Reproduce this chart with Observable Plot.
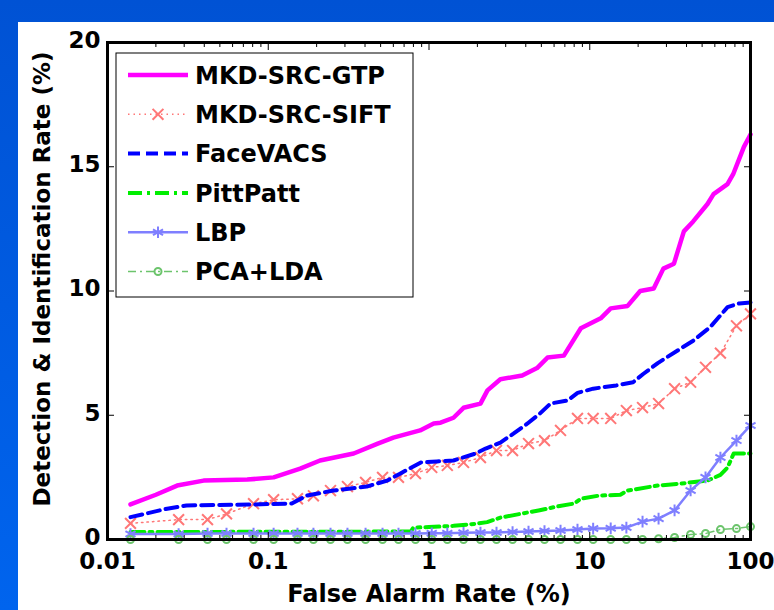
<!DOCTYPE html>
<html><head><meta charset="utf-8">
<script src="https://cdn.jsdelivr.net/npm/d3@7"></script>
<script src="https://cdn.jsdelivr.net/npm/@observablehq/plot@0.6"></script>
<style>
html,body{margin:0;padding:0;width:774px;height:610px;overflow:hidden;background:linear-gradient(to bottom,#0052d4,#0064ee)}
#panel{position:absolute;left:18px;top:22px;width:756px;height:588px;background:#fff}
#legend{position:absolute;left:0;top:0;pointer-events:none}
</style></head><body><div id="panel"></div>
<script>
// ---------- data ----------
const seriesNames = ["MKD-SRC-GTP","MKD-SRC-SIFT","FaceVACS","PittPatt","LBP","PCA+LDA"];
const xTicks = [0.01, 0.1, 1, 10, 100];
const xTickLabels = ["0.01","0.1","1","10","100"];
const yTicks = [0, 5, 10, 15, 20];
const xLabel = "False Alarm Rate (%)";
const yLabel = "Detection & Identification Rate (%)";

const gtpFAR  = [0.0139,0.02,0.0271,0.0396,0.074,0.108,0.158,0.21,0.34,0.48,0.60,0.88,1.07,1.18,1.42,1.64,2.09,2.31,2.78,3.8,4.7,5.46,6.9,8.8,11.7,13.5,17.2,20.6,25,28.7,33.4,38.5,44,54,58.9,71.9,78,91,100];
const gtpRate = [1.41,1.8,2.17,2.37,2.41,2.5,2.85,3.18,3.46,3.86,4.1,4.39,4.67,4.7,4.9,5.3,5.47,6.0,6.45,6.6,6.9,7.32,7.4,8.5,8.9,9.3,9.4,10.0,10.1,10.9,11.1,12.4,12.8,13.5,13.9,14.3,14.7,15.8,16.3];

const vacsFAR  = [0.0139,0.0235,0.031,0.081,0.14,0.174,0.255,0.41,0.55,0.66,0.89,1.12,1.42,1.95,2.25,2.78,3.35,4.1,4.9,5.7,7.3,8.4,10.5,14.6,18.6,21.6,26.5,36.7,44,56,72,85,100];
const vacsRate = [0.9,1.24,1.37,1.41,1.45,1.77,1.97,2.13,2.37,2.65,3.1,3.14,3.18,3.46,3.66,3.9,4.26,4.67,5.07,5.47,5.6,5.9,6.07,6.2,6.33,6.67,7.1,7.68,8.0,8.54,9.35,9.5,9.54];

const pittFAR  = [0.0139,0.77,0.8,1.0,1.42,2.0,2.3,2.78,3.7,4.8,6.3,8.0,8.8,11.5,15.5,17.2,26.5,36.7,54,65,72,78.6,100];
const pittRate = [0.3,0.32,0.48,0.5,0.55,0.64,0.7,0.88,1.03,1.17,1.33,1.45,1.64,1.77,1.8,1.97,2.17,2.25,2.37,2.6,2.9,3.46,3.46];

// marker positions shared by the marked series
const markerFAR = [0.0139,0.0277,0.0419,0.055,0.081,0.108,0.152,0.191,0.244,0.311,0.403,0.514,0.646,0.824,1.04,1.30,1.64,2.09,2.63,3.31,4.16,5.23,6.58,8.39,10.5,13.5,16.9,21.3,26.8,33.7,42.4,52.5,65.0,81.8,100];
const siftRate = [0.65,0.8,0.8,1.03,1.44,1.6,1.64,1.76,1.97,2.13,2.3,2.5,2.5,2.65,2.9,2.98,3.1,3.3,3.58,3.58,3.86,3.98,4.39,4.87,4.87,4.87,5.19,5.31,5.47,6.07,6.33,6.93,7.5,8.6,9.08];
const lbpRate  = [0.22,0.22,0.24,0.24,0.24,0.24,0.24,0.24,0.24,0.24,0.24,0.24,0.24,0.24,0.25,0.25,0.27,0.28,0.28,0.3,0.32,0.34,0.36,0.4,0.44,0.45,0.48,0.72,0.84,1.17,1.97,2.5,3.3,3.98,4.59];
const pcaRate  = [0,0,0,0,0,0,0,0,0,0,0,0,0,0,0,0,0,0,0,0,0,0,0,0,0,0,0,0,0.03,0.08,0.2,0.24,0.4,0.44,0.52];

// ---------- styles ----------
const styles = {
  "MKD-SRC-GTP":  {stroke:"#ff00ff", strokeWidth:4.5, dash:null},
  "MKD-SRC-SIFT": {stroke:"#ff7777", strokeWidth:1.5, dash:"1.5,4", symbol:"times", r:5, mw:2},
  "FaceVACS":     {stroke:"#0000ff", strokeWidth:4, dash:"12,6"},
  "PittPatt":     {stroke:"#00ee00", strokeWidth:4, dash:"14,5,3,5"},
  "LBP":          {stroke:"#7f7fff", strokeWidth:2.5, dash:null, symbol:"asterisk", r:5.5, mw:2},
  "PCA+LDA":      {stroke:"#6cc46c", strokeWidth:1.5, dash:"8,4,2,4", symbol:"circle", r:3.5, mw:2}
};

const zip = (xs, ys, name) => xs.map((x, i) => ({far: x, rate: ys[i], series: name}));
const seriesData = {
  "MKD-SRC-GTP": zip(gtpFAR, gtpRate, "MKD-SRC-GTP"),
  "MKD-SRC-SIFT": zip(markerFAR, siftRate, "MKD-SRC-SIFT"),
  "FaceVACS": zip(vacsFAR, vacsRate, "FaceVACS"),
  "PittPatt": zip(pittFAR, pittRate, "PittPatt"),
  "LBP": zip(markerFAR, lbpRate, "LBP"),
  "PCA+LDA": zip(markerFAR, pcaRate, "PCA+LDA")
};

const minorTicks = [];
for (let e = -2; e < 2; e++) for (let k = 2; k <= 9; k++) minorTicks.push(k * Math.pow(10, e));

const dataMarks = [];
for (const name of seriesNames) {
  const s = styles[name];
  dataMarks.push(Plot.line(seriesData[name], {x:"far", y:"rate", stroke:s.stroke, strokeWidth:s.strokeWidth, strokeDasharray:s.dash || undefined, strokeLinejoin:"round"}));
  if (s.symbol) dataMarks.push(Plot.dot(seriesData[name], {x:"far", y:"rate", symbol:s.symbol, r:s.r, stroke:s.stroke, strokeWidth:s.mw, fill:"none"}));
}

const FONT = "DejaVu Sans";
const chart = Plot.plot({
  width: 756, height: 588,
  marginLeft: 89, marginTop: 20, marginRight: 24, marginBottom: 71,
  style: {fontFamily: FONT, fontWeight: "bold", fontSize: "23px", color: "black", background: "white", overflow: "visible"},
  x: {type: "log", domain: [0.01, 100]},
  y: {domain: [0, 20]},
  marks: [
    ...dataMarks,
    Plot.axisX(xTicks, {anchor:"bottom", tickSize:0, tickPadding:13, tickFormat:d=>xTickLabels[xTicks.indexOf(d)], label:null, fontSize:23}),
    Plot.axisX(minorTicks, {anchor:"bottom", tickSize:-4, tickFormat:()=>"", label:null}),
    Plot.axisX(minorTicks, {anchor:"top", tickSize:-4, tickFormat:()=>"", label:null}),
    Plot.axisX(xTicks, {anchor:"bottom", tickSize:-7, tickFormat:()=>"", label:null}),
    Plot.axisX(xTicks, {anchor:"top", tickSize:-7, tickFormat:()=>"", label:null}),
    Plot.axisY(yTicks, {anchor:"left", tickSize:0, tickPadding:7, dy:-2, tickFormat:d=>String(d), label:null, fontSize:23}),
    Plot.axisY(yTicks, {anchor:"left", tickSize:-7, tickFormat:()=>"", label:null}),
    Plot.axisY(yTicks, {anchor:"right", tickSize:-7, tickFormat:()=>"", label:null}),
    Plot.text([xLabel], {text:d=>d, frameAnchor:"bottom", dy:55, lineAnchor:"middle", textAnchor:"middle", fontSize:24, fontWeight:"bold"}),
    Plot.text([yLabel], {text:d=>d, frameAnchor:"left", rotate:-90, dx:-65, dy:-12, textAnchor:"middle", lineAnchor:"middle", fontSize:23, fontWeight:"bold"}),
    Plot.frame({stroke:"black", strokeWidth:3})
  ]
});
document.getElementById("panel").appendChild(chart);

// ---------- legend (inside the axes, top-left) ----------
const leg = d3.select("body").append("svg").attr("id","legend").attr("width",774).attr("height",610);
leg.append("rect").attr("x",116).attr("y",53).attr("width",297).attr("height",244).attr("fill","white").attr("stroke","black").attr("stroke-width",1);
seriesNames.forEach((name, i) => {
  const s = styles[name];
  const y = 75 + i * 39.3;
  leg.append("line").attr("x1",128).attr("x2",188).attr("y1",y).attr("y2",y)
    .attr("stroke",s.stroke).attr("stroke-width",s.strokeWidth).attr("stroke-dasharray",s.dash);
  if (s.symbol) {
    const sym = {times:d3.symbolTimes, asterisk:d3.symbolAsterisk, circle:d3.symbolCircle}[s.symbol];
    leg.append("path").attr("transform",`translate(158,${y})`)
      .attr("d", d3.symbol(sym, Math.PI * s.r * s.r)())
      .attr("fill","none").attr("stroke",s.stroke).attr("stroke-width",s.mw);
  }
  leg.append("text").attr("x",195).attr("y",y).attr("dy","0.36em")
    .attr("font-family",FONT).attr("font-weight","bold").attr("font-size",24).attr("fill","black").text(name);
});
</script></body></html>
